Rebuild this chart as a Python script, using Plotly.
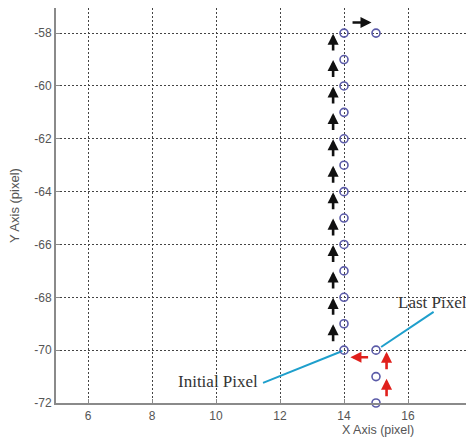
import plotly.graph_objects as go

# ---- data ----
path_x = [14] * 13 + [15, 15, 15, 15]
path_y = [-58, -59, -60, -61, -62, -63, -64, -65, -66, -67, -68, -69, -70, -58, -70, -71, -72]

# black upward arrows (tail -> head)
up_x = [13.66] * 12
up_tail = [-58.72, -59.72, -60.72, -61.72, -62.72, -63.72, -64.72, -65.72, -66.72, -67.72, -68.72, -69.72]
up_head = [-58.02, -59.02, -60.02, -61.02, -62.02, -63.02, -64.02, -65.02, -66.02, -67.02, -68.02, -69.02]

# black right arrow at top
right_tail = (14.22, -57.6)
right_head = (14.86, -57.6)

# red arrows
red_left_tail = (14.8, -70.27)
red_left_head = (14.2, -70.27)
red_up_x = [15.33, 15.33]
red_up_tail = [-70.78, -71.8]
red_up_head = [-70.06, -71.08]

# leader lines and labels
initial_line_x = [11.47, 13.95]
initial_line_y = [-71.24, -70.03]
last_line_x = [15.16, 16.8]
last_line_y = [-69.88, -68.55]
initial_label = ("Initial Pixel", 10.05, -71.2)
last_label = ("Last Pixel", 16.75, -68.2)

x_ticks = [6, 8, 10, 12, 14, 16, 18]
y_ticks = [-58, -60, -62, -64, -66, -68, -70, -72]

# page offset of the figure inside the window (measured)
OFFX, OFFY = 4, 8
W, H = 474 - OFFX, 439 - OFFY
ml, mr, mt, mb = 52 - OFFX, 0, 0, H - (403 - OFFY)
pw, ph = W - ml - mr, H - mt - mb

fig = go.Figure()

fig.add_trace(go.Scatter(x=initial_line_x, y=initial_line_y, mode="lines",
                         line=dict(color="#1e9fcc", width=2), showlegend=False))
fig.add_trace(go.Scatter(x=last_line_x, y=last_line_y, mode="lines",
                         line=dict(color="#1e9fcc", width=2), showlegend=False))
fig.add_trace(go.Scatter(x=path_x, y=path_y, mode="markers", cliponaxis=False,
                         marker=dict(symbol="circle-open", size=8, color="#5b5ba8",
                                     line=dict(width=1.6, color="#5b5ba8")),
                         showlegend=False))

anns = []
def arrow(tx, ty, hx, hy, color):
    anns.append(dict(x=hx, y=hy, ax=tx, ay=ty, xref="x", yref="y", axref="x", ayref="y",
                     showarrow=True, arrowhead=2, arrowsize=0.85, arrowwidth=2.6,
                     arrowcolor=color, text="", standoff=0, startstandoff=0))

for x, t, h in zip(up_x, up_tail, up_head):
    arrow(x, t, x, h, "#111111")
arrow(right_tail[0], right_tail[1], right_head[0], right_head[1], "#111111")
arrow(red_left_tail[0], red_left_tail[1], red_left_head[0], red_left_head[1], "#e0201c")
for x, t, h in zip(red_up_x, red_up_tail, red_up_head):
    arrow(x, t, x, h, "#e0201c")

for txt, x, y in [initial_label, last_label]:
    anns.append(dict(x=x, y=y, xref="x", yref="y", text=txt, showarrow=False,
                     font=dict(family="Liberation Serif, Times New Roman, serif", size=17, color="#333333")))

axis_font = dict(family="Liberation Sans, Arial, sans-serif", size=12, color="#555555")
anns.append(dict(x=(374 - OFFX - ml) / pw, y=1 - (430 - OFFY - mt) / ph, xref="paper", yref="paper",
                 xanchor="center", yanchor="middle",
                 text="X Axis (pixel)", showarrow=False, font=dict(axis_font, size=12.5)))
anns.append(dict(x=(10 - OFFX - ml) / pw, y=1 - (206 - OFFY - mt) / ph, xref="paper", yref="paper",
                 xanchor="center", yanchor="middle",
                 text="Y Axis (pixel)", showarrow=False, textangle=-90, font=dict(axis_font, size=13)))

fig.update_layout(annotations=anns)

axis_common = dict(showgrid=True, gridcolor="#444444", griddash="2px,2px", gridwidth=1,
                   zeroline=False, showline=True, linecolor="#8a8a8a", linewidth=2,
                   ticks="inside", ticklen=4, tickcolor="#8a8a8a", tickfont=axis_font,
                   automargin=False)

fig.update_xaxes(range=[5, 5 + pw / 32.0], tickvals=x_ticks, ticktext=[str(v) for v in x_ticks],
                 ticklabelstandoff=1, **axis_common)
fig.update_yaxes(range=[-72, -57.05], tickvals=y_ticks, ticktext=[str(v) for v in y_ticks],
                 **axis_common)

fig.update_layout(width=W, height=H,
                  margin=dict(l=ml, r=mr, t=mt, b=mb, pad=0, autoexpand=False),
                  plot_bgcolor="white", paper_bgcolor="white", showlegend=False)

fig.write_html("out.html")
